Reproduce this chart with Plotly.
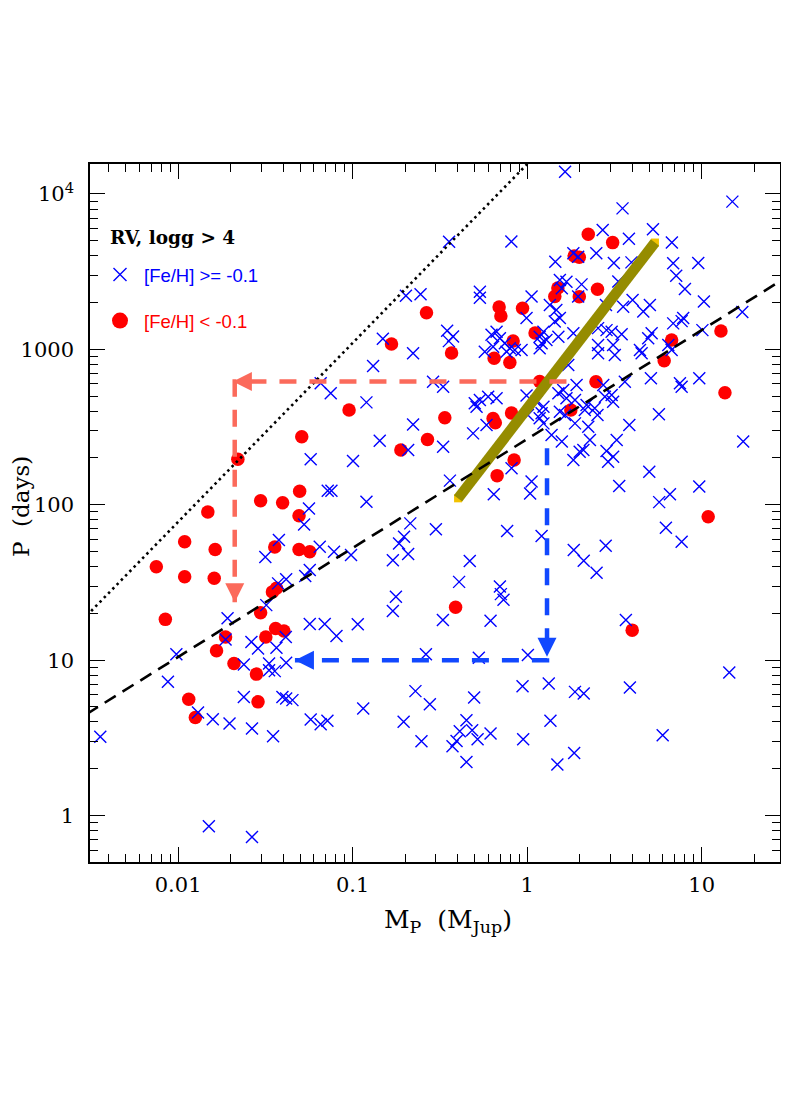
import math
import plotly.graph_objects as go

# ---------------- data ----------------
# planets with [Fe/H] < -0.1 : mass (M_Jup), period (days)
red_mass = [0.167, 0.0954, 0.0511, 0.189, 0.0220, 0.0497, 0.0297, 0.0397, 0.0148, 0.0493,
            0.0109, 0.0163, 0.0358, 0.0493, 0.0568, 0.0075, 0.0109, 0.0161, 0.0366, 0.0347,
            0.00845, 0.0297, 0.0187, 0.0318, 0.0362, 0.0404, 0.0166, 0.0209, 0.0281, 0.0115,
            0.01255, 0.0287, 0.389, 4.00, 10.9, 0.265, 0.691, 0.707, 0.941, 1.50,
            1.44, 1.11, 0.831, 0.369, 0.647, 0.796, 1.18, 0.3375, 0.638, 0.657,
            0.814, 0.2685, 0.842, 0.673, 2.24, 3.09, 1.86, 1.99, 1.99, 2.53,
            12.9, 6.73, 6.10, 2.48, 1.78, 13.6]
red_period = [1083, 407, 274, 225, 196, 122, 106, 103, 89.7, 85.0,
              57.8, 51.5, 53.4, 51.6, 49.8, 39.9, 34.4, 33.7, 29.0, 27.5,
              18.3, 20.2, 14.1, 14.1, 16.0, 15.4, 11.5, 9.52, 8.13, 5.61,
              4.28, 5.39, 21.9, 15.6, 83.7, 1723, 1875, 1641, 1839, 2486,
              2190, 1275, 1133, 948, 876, 823, 621, 363, 359, 337,
              390, 263, 194, 154, 5510, 4865, 3995, 3918, 2185, 2438,
              1314, 1150, 846, 619, 407, 526]

# planets with [Fe/H] >= -0.1 : mass (M_Jup), period (days)
blue_mass = [1.65, 3.52, 15.0, 2.71, 5.26, 3.83, 6.75, 2.49, 1.84, 1.96,
             1.45, 3.14, 3.96, 6.87, 9.56, 7.15, 8.02, 10.3, 17.1, 1.54,
             1.68, 1.58, 2.05, 1.96, 3.33, 4.02, 3.55, 5.05, 4.63, 1.35,
             1.47, 1.54, 1.44, 1.84, 2.55, 2.85, 3.05, 3.48, 5.17, 6.87,
             7.84, 7.68, 10.1, 0.357, 0.812, 0.202, 0.245, 0.536, 0.536, 1.06,
             0.992, 0.149, 0.348, 0.376, 0.356, 0.668, 0.698, 0.625, 0.572, 0.638,
             0.745, 0.796, 0.850, 0.929, 0.762, 1.18, 1.29, 1.21, 1.18, 1.51,
             1.24, 2.55, 2.55, 3.11, 3.18, 4.43, 4.53, 4.94, 6.44, 6.73,
             1.72, 0.222, 0.131, 0.0656, 0.0749, 0.120, 0.143, 0.0575, 0.1005, 0.0720,
             0.0756, 0.0562, 0.120, 0.0527, 0.289, 0.330, 0.501, 0.536, 0.598, 0.668,
             0.513, 0.992, 1.13, 1.24, 1.21, 1.18, 1.61, 1.68, 1.88, 1.54,
             1.65, 1.88, 1.01, 1.24, 0.222, 0.208, 0.330, 0.490, 0.585, 1.38,
             0.814, 0.361, 0.644, 1.06, 1.04, 1.92, 1.51, 2.73, 2.79, 3.05,
             3.11, 3.63, 5.12, 7.51, 7.68, 9.69, 5.69, 3.85, 2.19, 2.14,
             2.44, 2.53, 2.24, 1.58, 2.29, 3.26, 2.10, 2.00, 1.84, 2.85,
             3.11, 2.91, 5.01, 3.37, 9.69, 6.58, 5.71, 17.3, 2.83, 0.0378,
             0.0316, 0.0648, 0.0782, 0.0979, 0.0568, 0.0535, 0.0416, 0.0374, 0.0320, 0.0192,
             0.0187, 0.0568, 0.0692, 0.0808, 0.107, 0.170, 0.177, 0.170, 0.00977, 0.00874,
             0.0263, 0.0287, 0.0366, 0.0414, 0.0358, 0.0332, 0.0332, 0.0416, 0.0238, 0.0238,
             0.0396, 0.0416, 0.0452, 0.0130, 0.0158, 0.0197, 0.0265, 0.0350, 0.00358, 0.0575,
             0.0656, 0.0717, 0.115, 0.0150, 0.0265, 0.214, 0.300, 0.197, 0.1845, 0.208,
             0.469, 0.768, 1.21, 0.4075, 0.698, 0.707, 0.732, 0.329, 0.617, 0.263,
             0.5285, 1.01, 1.85, 2.11, 2.50, 2.82, 6.24, 7.68, 3.68, 0.229,
             0.277, 0.196, 0.497, 0.941, 1.33, 1.88, 2.11, 3.88, 14.4, 1.36,
             0.449, 0.411, 0.484, 0.520, 0.394, 0.3735, 0.617, 0.248, 0.949, 0.449,
             1.49, 1.86, 5.98]
blue_period = [13880, 8080, 8930, 5870, 5930, 5160, 4880, 4160, 4160, 3950,
               3670, 3600, 3630, 3580, 3600, 2980, 2450, 2030, 1740, 2800,
               2720, 2470, 2620, 2190, 2730, 2080, 1880, 1930, 1750, 1930,
               1790, 1590, 1510, 1270, 1370, 1330, 1300, 1250, 1270, 1470,
               1590, 1520, 1330, 4920, 4940, 2210, 2260, 2350, 2150, 2190,
               1590, 1170, 1320, 1210, 1130, 1300, 1180, 1240, 967, 1041,
               1095, 1016, 991, 991, 967, 1207, 1150, 1095, 1016, 1207,
               1300, 1067, 944, 1067, 920, 991, 944, 1180, 1067, 991,
               794, 944, 782, 605, 522, 456, 258, 196, 191, 123,
               123, 94.5, 104.5, 74.6, 619, 575, 450, 472, 496, 484,
               428, 505, 460, 428, 388, 360, 548, 484, 472, 397,
               378, 334, 378, 334, 329, 225, 236, 288, 326, 281,
               172, 143, 117, 141, 118, 590, 522, 590, 496, 509,
               460, 619, 652, 605, 575, 652, 382, 326, 439, 407,
               418, 378, 318, 255, 261, 261, 225, 219, 194, 222,
               204, 189, 163, 132, 131, 117, 104, 255, 1930, 59.3,
               46.1, 53.7, 49.8, 47.5, 38.0, 34.8, 33.2, 31.2, 22.6, 18.6,
               13.6, 17.1, 17.1, 14.3, 17.0, 44.0, 25.6, 20.7, 10.9, 7.25,
               13.1, 11.9, 12.0, 14.1, 8.50, 9.52, 8.62, 9.61, 9.38, 5.80,
               5.80, 5.67, 5.53, 4.61, 4.17, 3.91, 3.63, 3.24, 3.21, 4.15,
               3.87, 4.07, 4.89, 0.853, 0.728, 75.9, 69.5, 62.2, 56.4, 48.2,
               43.4, 67.7, 62.9, 31.9, 29.8, 26.6, 24.5, 18.1, 17.9, 10.9,
               10.35, 10.8, 51.1, 43.6, 36.5, 54.5, 71.1, 57.8, 18.1, 6.32,
               5.21, 4.01, 5.75, 6.80, 7.08, 6.25, 6.10, 6.67, 8.33, 4.07,
               4.11, 3.49, 3.54, 3.10, 3.02, 2.79, 3.37, 3.01, 3.10, 2.21,
               2.13, 2.53, 3.29]

# reference lines (mass, period end points)
dotted_mass = [0.003, 1.2]
dotted_period = [19.4, 19200]
dashed_mass = [0.003, 35]
dashed_period = [4.51, 3200]
band_mass = [0.402, 5.40]
band_period = [110, 4870]

# arrows: dashed paths (mass, period) and arrow-tip positions
salmon_mass = [1.68, 0.0211, 0.0211]
salmon_period = [621, 621, 23.6]
salmon_tip_mass = [0.0206, 0.0211]
salmon_tip_period = [621, 23.6]
salmon_tip_dir = ["arrow-left", "arrow-down"]
blue_arrow_mass = [1.30, 1.30, 0.0467]
blue_arrow_period = [231, 10.0, 10.0]
blue_tip_mass = [1.30, 0.0467]
blue_tip_period = [10.5, 10.0]
blue_tip_dir = ["arrow-down", "arrow-left"]

x_tickvals = [0.01, 0.1, 1, 10]
x_ticktext = ["0.01", "0.1", "1", "10"]
y_tickvals = [1, 10, 100, 1000, 10000]
y_ticktext = ["1", "10", "100", "1000", "10<sup>4</sup>"]

SALMON = "#fb6a5b"
ARROW_BLUE = "#1148ff"
SERIF = "DejaVu Serif"
BLUE_NAME = '<span style="color:#0000ff">[Fe/H] &gt;= -0.1</span>'
RED_NAME = '<span style="color:#ff0000">[Fe/H] &lt; -0.1</span>'

# ---------------- figure ----------------
fig = go.Figure()

fig.add_trace(go.Scatter(
    x=red_mass, y=red_period, mode="markers", name=RED_NAME, showlegend=False,
    marker=dict(symbol="circle", size=13.5, color="#ff0000", line=dict(width=0))))

fig.add_trace(go.Scatter(
    x=blue_mass, y=blue_period, mode="markers", name=BLUE_NAME, showlegend=False,
    marker=dict(symbol="x-thin", size=12, color="#0000ff",
                line=dict(width=1.4, color="#0000ff"))))

# legend entries (larger legend symbols, like the reference key)
fig.add_trace(go.Scatter(
    x=[None], y=[None], mode="markers", name=BLUE_NAME,
    marker=dict(symbol="x-thin", size=13, color="#0000ff",
                line=dict(width=1.4, color="#0000ff")),
    legendrank=1, legendgroup="b"))
fig.add_trace(go.Scatter(
    x=[None], y=[None], mode="markers", name=RED_NAME,
    marker=dict(symbol="circle", size=20, color="#ff0000", line=dict(width=0)),
    legendrank=2, legendgroup="r"))

# olive band with gold ends
fig.add_trace(go.Scatter(
    x=band_mass, y=band_period, mode="markers", showlegend=False,
    marker=dict(symbol="square", size=8, color="#f2c200", line=dict(width=0))))
fig.add_trace(go.Scatter(
    x=band_mass, y=band_period, mode="lines", showlegend=False,
    line=dict(color="#958c00", width=10.5)))

fig.add_trace(go.Scatter(
    x=dotted_mass, y=dotted_period, mode="lines", showlegend=False,
    line=dict(color="black", width=2.6, dash="2.5px,3.6px")))
fig.add_trace(go.Scatter(
    x=dashed_mass, y=dashed_period, mode="lines", showlegend=False,
    line=dict(color="black", width=2.6, dash="13px,8px")))

fig.add_trace(go.Scatter(
    x=salmon_mass, y=salmon_period, mode="lines", showlegend=False,
    line=dict(color=SALMON, width=4.5, dash="17px,13px")))
fig.add_trace(go.Scatter(
    x=salmon_tip_mass, y=salmon_tip_period, mode="markers", showlegend=False,
    marker=dict(symbol=salmon_tip_dir, size=19, color=SALMON, line=dict(width=0))))
fig.add_trace(go.Scatter(
    x=blue_arrow_mass, y=blue_arrow_period, mode="lines", showlegend=False,
    line=dict(color=ARROW_BLUE, width=4.5, dash="17px,13px")))
fig.add_trace(go.Scatter(
    x=blue_tip_mass, y=blue_tip_period, mode="markers", showlegend=False,
    marker=dict(symbol=blue_tip_dir, size=19, color=ARROW_BLUE, line=dict(width=0))))

PLOT_W = 690.0
annotations = [
    dict(text="<b>RV, logg &gt; 4</b>", xref="paper", yref="paper",
         x=18 / PLOT_W, y=0.8954, xanchor="left", yanchor="middle", showarrow=False,
         font=dict(family=SERIF, size=18.5, color="black")),
    dict(text="M<sub>P</sub>  (M<sub>Jup</sub>)", xref="paper", yref="paper",
         x=358 / PLOT_W, y=-0.085, xanchor="center", yanchor="middle", showarrow=False,
         font=dict(family=SERIF, size=25, color="black")),
    dict(text="P  (days)", xref="paper", yref="paper", textangle=-90,
         x=-69 / PLOT_W, y=0.5086, xanchor="center", yanchor="middle", showarrow=False,
         font=dict(family=SERIF, size=23, color="black")),
]

x_minor = [m * 10 ** e for e in range(-3, 2) for m in range(2, 10)]
y_minor = [m * 10 ** e for e in range(-1, 5) for m in range(2, 10)]

axis_common = dict(
    type="log", ticks="inside", ticklen=15, tickwidth=1.2, tickcolor="black",
    showline=True, linecolor="black", linewidth=1.5, mirror="ticks",
    showgrid=False, zeroline=False, automargin=False,
    tickfont=dict(family=SERIF, size=21, color="black"),
)

fig.update_layout(
    width=773, height=1080,
    margin=dict(l=82, r=1, t=156, b=226),
    paper_bgcolor="white", plot_bgcolor="white",
    xaxis=dict(range=[-2.505, 1.449], tickvals=x_tickvals, ticktext=x_ticktext,
               minor=dict(tickvals=x_minor, ticks="inside", ticklen=8,
                          tickwidth=1.1, tickcolor="black", showgrid=False),
               ticklabelstandoff=3, **axis_common),
    yaxis=dict(range=[-0.299, 4.193], tickvals=y_tickvals, ticktext=y_ticktext,
               minor=dict(tickvals=y_minor, ticks="inside", ticklen=8,
                          tickwidth=1.1, tickcolor="black", showgrid=False),
               ticklabelstandoff=10, **axis_common),
    legend=dict(
        x=6 / PLOT_W, y=0.8682, xanchor="left", yanchor="top",
        bgcolor="rgba(0,0,0,0)", borderwidth=0,
        font=dict(family="Liberation Sans", size=18.5, color="black"),
        tracegroupgap=19, itemwidth=38, itemsizing="trace"),
    annotations=annotations,
    showlegend=True,
)

fig.write_html("out.html")
